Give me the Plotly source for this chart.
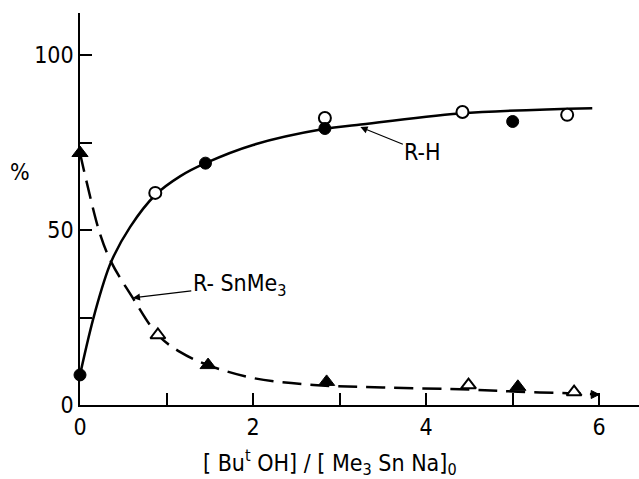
import plotly.graph_objects as go

# R-H smooth curve
rh_curve_x = [0, 0.17, 0.36, 0.58, 0.87, 1.16, 1.45, 2.0, 2.83, 3.2, 4.39, 5.92]
rh_curve_y = [8.6, 26.2, 40.9, 50.9, 60.0, 65.4, 69.1, 74.3, 78.9, 80.0, 83.3, 84.8]
rh_open_x = [0.87, 2.83, 4.42, 5.63]
rh_open_y = [60.6, 82.0, 83.7, 82.9]
rh_fill_x = [0, 1.45, 2.83, 5.0]
rh_fill_y = [8.6, 69.1, 79.0, 81.0]

# R-SnMe3 dashed curve
sn_curve_x = [0, 0.08, 0.23, 0.36, 0.61, 0.9, 1.16, 1.48, 2.0, 2.7, 3.5, 4.5, 5.06, 5.7, 6.0]
sn_curve_y = [72.0, 63.4, 49.0, 40.9, 30.6, 20.0, 15.1, 11.4, 7.7, 5.7, 5.0, 4.4, 3.8, 3.3, 3.0]
sn_open_x = [0.9, 4.49, 5.71]
sn_open_y = [20.0, 5.7, 3.7]
sn_fill_x = [0, 1.48, 2.85, 5.06]
sn_fill_y = [72.0, 11.4, 6.6, 5.2]

x_label_step = 2
x_minor_step = 1
y_label_step = 50
y_minor_step = 25

FONT = "Liberation Sans Narrow, DejaVu Sans Condensed, Liberation Sans, sans-serif"

fig = go.Figure()
fig.add_trace(go.Scatter(x=rh_curve_x, y=rh_curve_y, mode="lines",
                         line=dict(color="black", width=2.5, shape="spline"),
                         hoverinfo="skip", cliponaxis=False))
fig.add_trace(go.Scatter(x=sn_curve_x, y=sn_curve_y, mode="lines",
                         line=dict(color="black", width=2.5, shape="spline", dash="19px,9px"),
                         hoverinfo="skip", cliponaxis=False))
fig.add_trace(go.Scatter(x=sn_curve_x[-1:], y=sn_curve_y[-1:], mode="markers",
                         marker=dict(symbol="arrow-right", size=8, color="black",
                                     line=dict(color="black", width=1)),
                         hoverinfo="skip", cliponaxis=False))
fig.add_trace(go.Scatter(x=rh_open_x, y=rh_open_y, mode="markers",
                         marker=dict(symbol="circle", size=12, color="white",
                                     line=dict(color="black", width=2)), cliponaxis=False))
fig.add_trace(go.Scatter(x=rh_fill_x, y=rh_fill_y, mode="markers",
                         marker=dict(symbol="circle", size=12, color="black",
                                     line=dict(color="black", width=1)), cliponaxis=False))
fig.add_trace(go.Scatter(x=sn_open_x, y=sn_open_y, mode="markers",
                         marker=dict(symbol="triangle-up", size=13, color="white",
                                     line=dict(color="black", width=2)), cliponaxis=False))
fig.add_trace(go.Scatter(x=sn_fill_x, y=sn_fill_y, mode="markers",
                         marker=dict(symbol="triangle-up", size=14, color="black",
                                     line=dict(color="black", width=1)), cliponaxis=False))

annotations = [
    dict(x=3.24, y=79.4, xref="x", yref="y", text="R-H", showarrow=True,
         ax=62, ay=25, arrowhead=2, arrowsize=1.2, arrowwidth=1.2, arrowcolor="black",
         font=dict(size=23, color="black", family=FONT)),
    dict(x=0.61, y=30.6, xref="x", yref="y", text="R- SnMe<sub>3</sub>", showarrow=True,
         ax=107, ay=-13, arrowhead=2, arrowsize=1.2, arrowwidth=1.2, arrowcolor="black",
         font=dict(size=23, color="black", family=FONT)),
    dict(x=-0.107, y=0.594, xref="paper", yref="paper", text="%", showarrow=False,
         xanchor="center", yanchor="middle",
         font=dict(size=23, color="black", family=FONT)),
    dict(x=0.447, y=-0.147, xref="paper", yref="paper",
         text="[ Bu<sup>t</sup> OH] / [ Me<sub>3</sub> Sn Na]<sub>0</sub>", showarrow=False,
         xanchor="center", yanchor="middle",
         font=dict(size=23, color="black", family=FONT)),
]

fig.update_layout(
    width=639, height=479,
    margin=dict(l=80, r=0, t=13, b=74),
    paper_bgcolor="white", plot_bgcolor="white",
    showlegend=False,
    font=dict(family=FONT, size=23, color="black"),
    annotations=annotations,
    xaxis=dict(range=[0, 6.46], tick0=0, dtick=x_label_step,
               ticks="inside", ticklen=12, tickwidth=1.5, tickcolor="black",
               minor=dict(tick0=0, dtick=x_minor_step, ticks="inside", ticklen=12,
                          tickwidth=1.5, tickcolor="black", showgrid=False),
               showline=True, linecolor="black", linewidth=2, showgrid=False,
               zeroline=False, tickfont=dict(size=23)),
    yaxis=dict(range=[0, 112], tick0=0, dtick=y_label_step,
               ticks="inside", ticklen=12, tickwidth=1.5, tickcolor="black",
               minor=dict(tick0=0, dtick=y_minor_step, ticks="inside", ticklen=12,
                          tickwidth=1.5, tickcolor="black", showgrid=False),
               showline=True, linecolor="black", linewidth=1.5, showgrid=False,
               zeroline=False, tickfont=dict(size=23)),
)

fig.write_html("out.html")
